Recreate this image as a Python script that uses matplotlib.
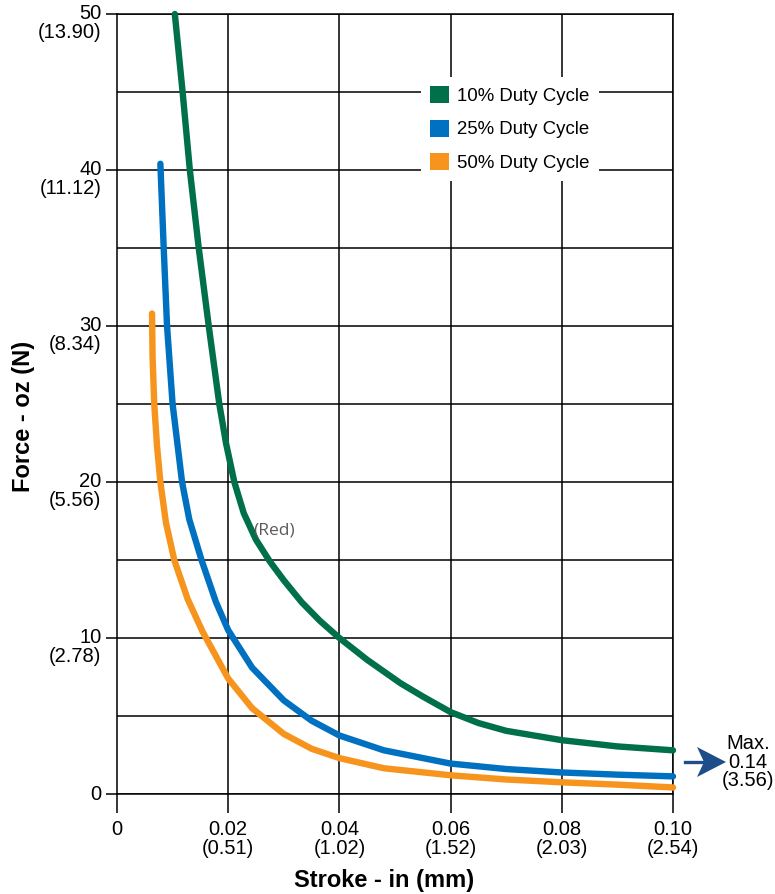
import matplotlib
matplotlib.use("Agg")
import matplotlib.pyplot as plt
from matplotlib.patches import Patch, Polygon
from matplotlib.lines import Line2D
from matplotlib.transforms import ScaledTranslation

plt.rcParams['font.family'] = ['Liberation Sans', 'DejaVu Sans']

# ---------------- data ----------------
green_x = [0.0104, 0.0118, 0.0131, 0.0147, 0.0165, 0.0184, 0.0196, 0.0211, 0.0228, 0.0250,
           0.0275, 0.0300, 0.0332, 0.0365, 0.0400, 0.0450, 0.0510, 0.0550, 0.0600,
           0.0650, 0.0700, 0.0800, 0.0900, 0.1000]
green_y = [50.0, 45.0, 40.0, 35.0, 30.0, 25.0, 22.5, 20.0, 18.0, 16.3,
           14.9, 13.7, 12.3, 11.1, 10.0, 8.6, 7.1, 6.25, 5.25,
           4.55, 4.05, 3.45, 3.05, 2.80]

blue_x = [0.0078, 0.0084, 0.0090, 0.0100, 0.0117, 0.0130, 0.0152, 0.0178, 0.0200, 0.0243,
          0.0300, 0.0350, 0.0400, 0.0480, 0.0600, 0.0700, 0.0800, 0.0900, 0.1000]
blue_y = [40.4, 35.0, 30.0, 25.0, 20.0, 17.6, 15.0, 12.3, 10.5, 8.1,
          6.0, 4.7, 3.75, 2.8, 1.95, 1.60, 1.38, 1.24, 1.13]

orange_x = [0.0063, 0.0064, 0.0067, 0.0072, 0.0078, 0.0088, 0.0103, 0.0127, 0.0154, 0.0200,
            0.0243, 0.0300, 0.0350, 0.0400, 0.0480, 0.0600, 0.0700, 0.0800, 0.0900, 0.1000]
orange_y = [30.8, 28.0, 25.0, 22.3, 20.0, 17.4, 15.0, 12.5, 10.4, 7.4,
            5.5, 3.85, 2.9, 2.3, 1.65, 1.2, 0.93, 0.75, 0.60, 0.42]

series_labels = ['10% Duty Cycle', '25% Duty Cycle', '50% Duty Cycle']
series_colors = ['#00704A', '#0070C0', '#F7941D']

x_ticks = [0, 0.02, 0.04, 0.06, 0.08, 0.10]
x_ticklabels = ['0', '0.02\n(0.51)', '0.04\n(1.02)', '0.06\n(1.52)', '0.08\n(2.03)', '0.10\n(2.54)']
y_ticks = [0, 10, 20, 30, 40, 50]
y_ticklabels = ['0', '10\n(2.78)', '20\n(5.56)', '30\n(8.34)', '40\n(11.12)', '50\n(13.90)']
y_minor = [5, 15, 25, 35, 45]

x_title = 'Stroke - in (mm)'
y_title = 'Force - oz (N)'
max_note = 'Max.\n0.14\n(3.56)'
red_note = '(Red)'

# ---------------- figure ----------------
W, H = 775, 894
fig = plt.figure(figsize=(W / 100, H / 100), dpi=100)
ax = fig.add_axes([117 / W, 100 / H, 556 / W, 780 / H])

ax.set_xlim(0, 0.10)
ax.set_ylim(0, 50)

# grid
for yv in y_ticks + y_minor:
    ax.axhline(yv, color='black', lw=1.1, zorder=1)
for xv in x_ticks[1:]:
    ax.axvline(xv, color='black', lw=1.1, zorder=1)

for xs, ys, c in zip([green_x, blue_x, orange_x], [green_y, blue_y, orange_y], series_colors):
    ax.plot(xs, ys, color=c, lw=4.6, solid_capstyle='round', solid_joinstyle='round',
            zorder=3, clip_on=False)

for s in ax.spines.values():
    s.set_color('black')
    s.set_linewidth(1.1)

ax.set_xticks(x_ticks)
ax.set_xticklabels(x_ticklabels, fontsize=14.5, linespacing=0.98)
ax.tick_params(axis='x', length=13.5, width=1.1, pad=5.5, direction='out')

ax.set_yticks(y_ticks)
ax.set_yticklabels([''] * len(y_ticks))
ax.tick_params(axis='y', length=8, width=1.1, pad=3, direction='out')
ytrans = ax.get_yaxis_transform()
for v, lab in zip(y_ticks, y_ticklabels):
    dy = -0.235 if '\n' in lab else -0.065
    tr = ytrans + ScaledTranslation(-0.155, dy, fig.dpi_scale_trans)
    ax.text(0, v, lab, transform=tr, fontsize=14.5, ha='right', va='baseline',
            multialignment='right', linespacing=0.98)

fig.text(24 / W, 1 - 416 / H, y_title, rotation=90, fontsize=17, fontweight='bold',
         ha='center', va='center')
fig.text(384 / W, 1 - 880 / H, x_title, fontsize=17, fontweight='bold',
         ha='center', va='center')

# legend
handles = [Patch(facecolor=c, edgecolor='none') for c in series_colors]
leg = ax.legend(handles, series_labels, loc='upper left',
                bbox_to_anchor=((421 - 117) / 556, (794 - 77) / 780),
                fontsize=13.4, handlelength=1.02, handleheight=1.02,
                labelspacing=0.78, handletextpad=0.42, borderpad=0.5,
                borderaxespad=0, frameon=True, fancybox=False)
leg.get_frame().set_facecolor('white')
leg.get_frame().set_edgecolor('none')
leg.get_frame().set_alpha(1)
leg.set_zorder(5)

# (Red) note
ax.text(0.0283, 16.9, red_note, fontsize=12.5, color='#5a5a5a', ha='center', va='center',
        family=['Open Sans', 'DejaVu Sans'], zorder=4)

# Max arrow
def fp(x, y):
    return (x / W, 1 - y / H)

arrow_color = '#1D4E89'
fig.add_artist(Line2D([fp(685, 762)[0], fp(703, 762)[0]], [fp(685, 762)[1], fp(703, 762)[1]],
                      transform=fig.transFigure, color=arrow_color, lw=2.4))
head = Polygon([fp(726, 762), fp(697, 747), fp(704, 762), fp(697, 777)], closed=True,
               transform=fig.transFigure, facecolor=arrow_color, edgecolor='none')
fig.add_artist(head)
fig.text(748 / W, 1 - 762 / H, max_note, fontsize=14.5, ha='center', va='center',
         linespacing=0.98)

fig.savefig('out.png', dpi=100)
